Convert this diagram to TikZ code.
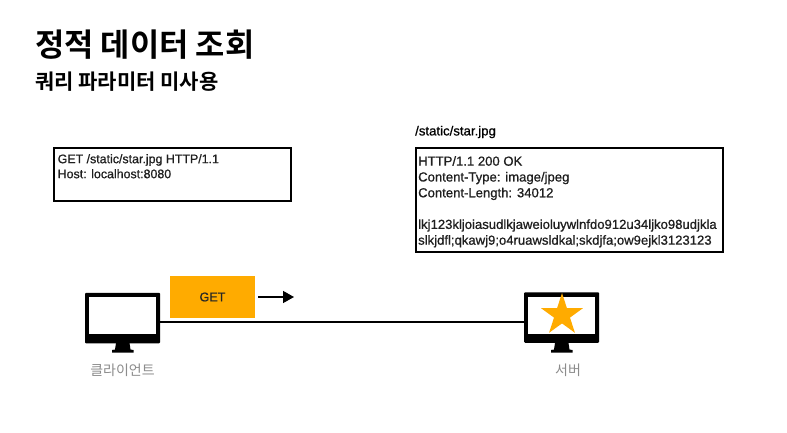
\documentclass[tikz,border=0pt]{standalone}
\usepackage{fontspec}
\usetikzlibrary{shapes.geometric,arrows.meta}
\setmainfont{Liberation Sans}
\newfontfamily\krbold{Noto Sans CJK KR Bold}
\newfontfamily\krreg{Noto Sans CJK KR}
\newfontfamily\latinsemi[FakeBold=0.8]{Liberation Sans}
\definecolor{accent}{HTML}{FFAB00}
\definecolor{labelgray}{HTML}{8C8C8C}
\tikzset{
  msgbox/.style={draw=black,line width=1.6pt,fill=white,inner sep=0pt,anchor=north west},
  msgtext/.style={anchor=north west,inner sep=0pt,align=left,text=black!88},
  screen/.style={fill=black,rounded corners=1pt,inner sep=0pt,minimum width=75pt,minimum height=50.5pt},
  glass/.style={fill=white,inner sep=0pt,minimum width=67pt,minimum height=37pt},
  device/.style={font=\krreg\fontsize{14}{16}\selectfont,text=labelgray,inner sep=0pt},
  link/.style={line width=1.5pt,black},
}
\begin{document}
\begin{tikzpicture}[x=1pt,y=-1pt]
\useasboundingbox (0,0) rectangle (787,433);
\fill[white] (0,0) rectangle (787,433);
% titles
\node[anchor=west,inner sep=0pt,font=\krbold\fontsize{31.8}{34}\selectfont] (title) at (35,45) {정적 데이터 조회};
\node[anchor=west,inner sep=0pt,font=\krbold\fontsize{21}{24}\selectfont] (subtitle) at (35,82) {쿼리 파라미터 미사용};
% messages
\node[msgbox,minimum width=237pt,minimum height=53pt] (req) at (53,147) {};
\node[msgtext,font=\latinsemi\fontsize{12.4}{15}\selectfont] (reqtext) at (57.5,154) {GET /static/star.jpg HTTP/1.1\\Host: localhost:8080};
\node[anchor=west,inner sep=0pt,font=\latinsemi\fontsize{13.2}{14}\selectfont] (path) at (415,132) {/static/star.jpg};
\node[msgbox,minimum width=307pt,minimum height=104pt] (resp) at (415,147) {};
\node[msgtext,font=\latinsemi\fontsize{13.1}{15.8}\selectfont] (resptext) at (418,156) {HTTP/1.1 200 OK\\Content-Type: image/jpeg\\Content-Length: 34012\\[15.8pt]lkj123kljoiasudlkjaweioluywlnfdo912u34ljko98udjkla\\slkjdfl;qkawj9;o4ruawsldkal;skdjfa;ow9ejkl3123123};
% client
\node[screen] (client) at (122.5,318) {};
\node[glass] (clientglass) at (122.3,315.5) {};
\fill[black] (116,343) -- (115,349.5) -- (112,350) -- (112,352.5) -- (133.5,352.5) -- (133.5,350) -- (130.5,349.5) -- (129.5,343) -- cycle;
\node[device] (clientlabel) at (122.5,370) {클라이언트};
% server
\node[screen] (server) at (561.5,317.5) {};
\node[glass] (serverglass) at (561.5,315) {};
\fill[black] (555,343) -- (554,349.5) -- (551,350) -- (551,352.5) -- (572.5,352.5) -- (572.5,350) -- (569.5,349.5) -- (568.5,343) -- cycle;
\node[star,star points=5,star point ratio=2.618,fill=accent,inner sep=0pt,minimum size=44pt] (starshape) at (562,315) {};
\node[device] (serverlabel) at (568,370) {서버};
% connection
\path (client.east |- 0,322) coordinate (linea) (server.west |- 0,322) coordinate (lineb);
\draw[link] (linea) -- (lineb);
% GET badge
\node[fill=accent,inner sep=0pt,minimum width=85pt,minimum height=42pt,font=\latinsemi\fontsize{12.6}{14}\selectfont,text=black!85] (get) at (212.5,297) {GET};
\coordinate (arrowend) at (294,297);
\draw[link,shorten <=3pt,-{Triangle[length=11pt,width=12pt]}] (get.east) -- (arrowend);
\end{tikzpicture}
\end{document}
